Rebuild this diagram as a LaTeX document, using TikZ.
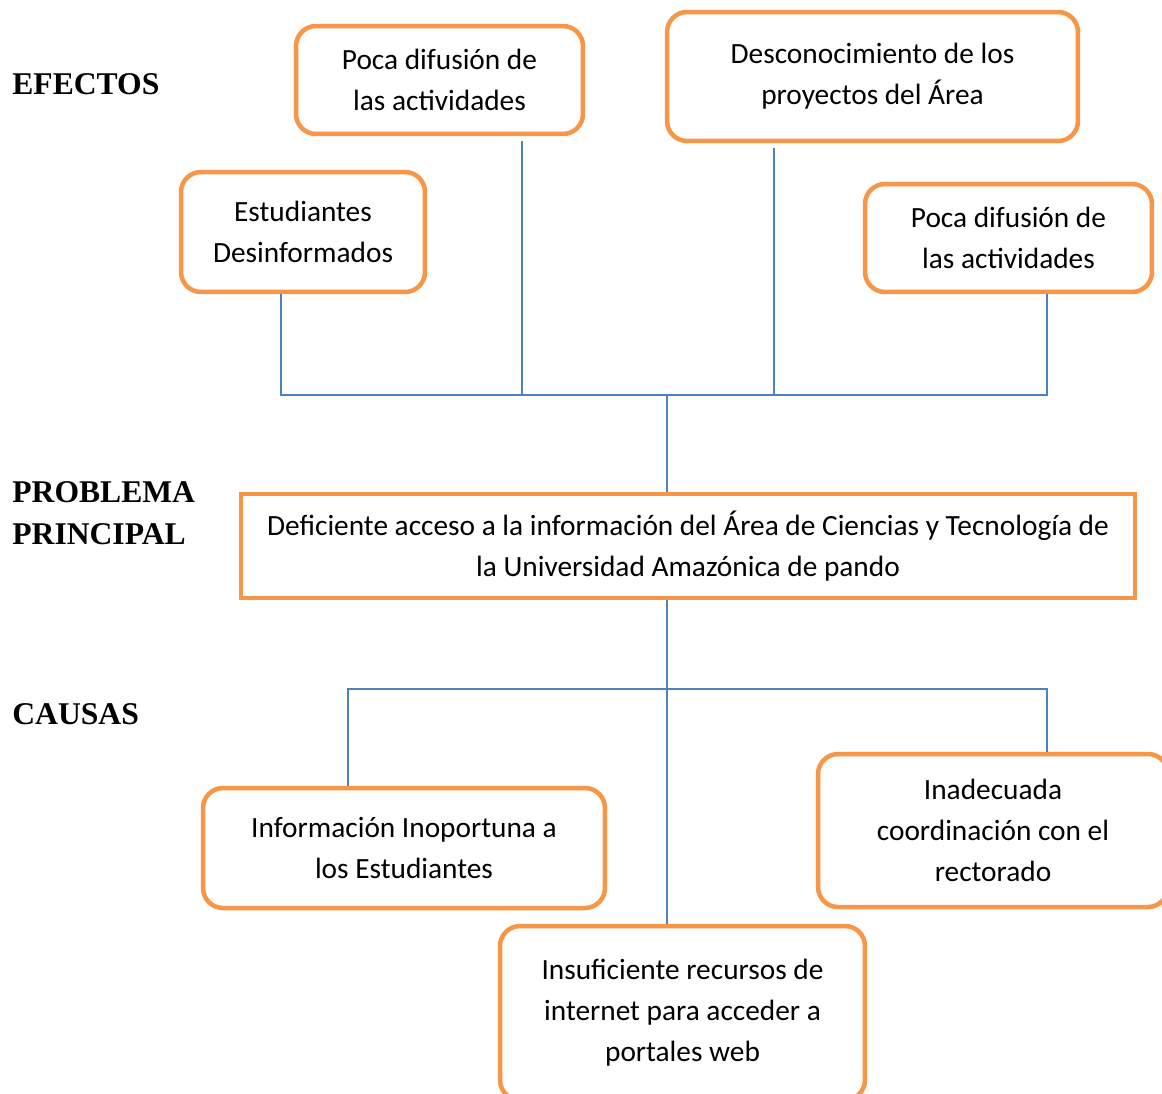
\documentclass[tikz,border=0pt]{standalone}
\usepackage{fontspec}
\setmainfont{Carlito}
\newfontfamily\labelfont{Liberation Serif}
\definecolor{boxorange}{HTML}{F79646}
\definecolor{lineblue}{HTML}{4F81BD}
\begin{document}
\begin{tikzpicture}[x=0.02cm,y=-0.02cm,
    effect/.style={draw=boxorange,line width=0.09cm,rounded corners=0.4cm,fill=white,
      align=center,inner sep=0pt,font=\fontsize{16.7}{23.4}\selectfont},
    problem/.style={effect,rounded corners=0pt},
    link/.style={draw=lineblue,line width=0.85pt},
    sidelabel/.style={anchor=west,align=left,inner sep=0pt,
      font=\labelfont\bfseries\fontsize{18}{23.9}\selectfont}]
      \useasboundingbox (0,0) rectangle (1162,1093);

      \node[sidelabel] (lefectos) at (12,84) {EFECTOS};
      \node[sidelabel] (lproblema) at (12,513) {PROBLEMA\\PRINCIPAL};
      \node[sidelabel] (lcausas) at (12,714) {CAUSAS};

      % efectos
      \node[effect,minimum width=5.74cm,minimum height=2.16cm] (efA) at (439.5,80) {Poca difusión de\\las actividades};
      \node[effect,minimum width=8.22cm,minimum height=2.58cm] (efB) at (872.5,76.5) {Desconocimiento de los\\proyectos del Área};
      \node[effect,minimum width=4.88cm,minimum height=2.4cm] (efC) at (303,232) {Estudiantes\\Desinformados};
      \node[effect,minimum width=5.74cm,minimum height=2.16cm] (efD) at (1008.5,238) {Poca difusión de\\las actividades};

      % problema principal
      \node[problem,minimum width=17.88cm,minimum height=2.08cm] (main) at (688,546)
        {Deficiente acceso a la información del Área de Ciencias y Tecnología de\\la Universidad Amazónica de pando};

      % causas
      \node[effect,minimum width=8.04cm,minimum height=2.4cm] (caE) at (404,848) {Información Inoportuna a\\los Estudiantes};
      \node[effect,minimum width=7cm,minimum height=3.06cm] (caF) at (993,830.5) {Inadecuada\\coordinación con el\\rectorado};
      \node[effect,minimum width=7.3cm,minimum height=3.48cm] (caG) at (682.5,1013) {Insuficiente recursos de\\internet para acceder a\\portales web};

      \coordinate (jC) at (281,395);
      \coordinate (jA) at (522,395);
      \coordinate (jT) at (667,395);
      \coordinate (jB) at (774,395);
      \coordinate (jD) at (1047,395);
      \coordinate (kE) at (348,689);
      \coordinate (kT) at (667,689);
      \coordinate (kF) at (1047,689);

      \draw[link] (jC |- efC.south) -- (jC) -- (jD) -- (jD |- efD.south);
      \draw[link,shorten <=0.1cm] (jA |- efA.south) -- (jA);
      \draw[link,shorten <=0.1cm] (jB |- efB.south) -- (jB);
      \draw[link] (jT) -- (jT |- main.north);

      \draw[link] (kT |- main.south) -- (kT |- caG.north);
      \draw[link] (kE |- caE.north) -- (kE) -- (kF) -- (kF |- caF.north);
    \end{tikzpicture}
\end{document}
